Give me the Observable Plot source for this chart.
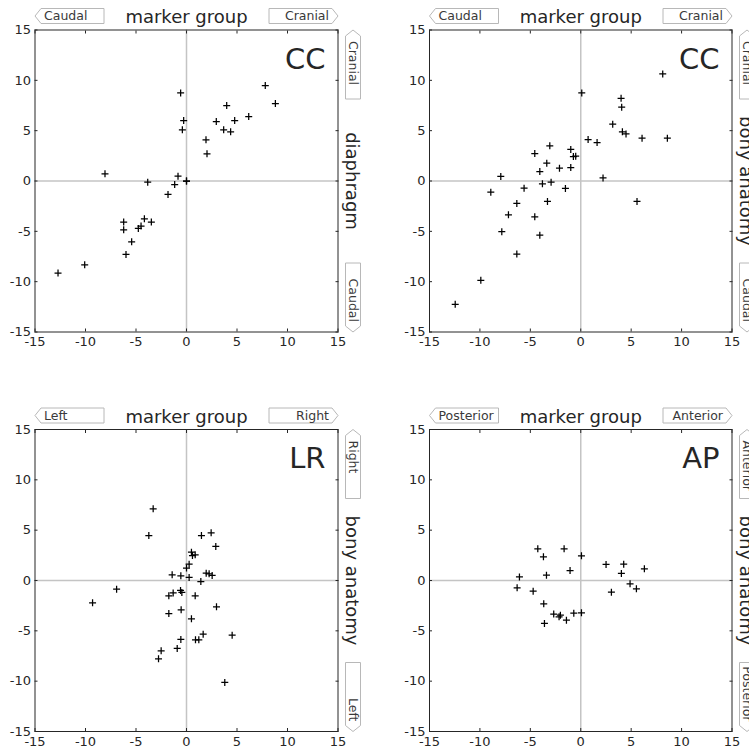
<!DOCTYPE html>
<html><head><meta charset="utf-8">
<script src="https://cdn.jsdelivr.net/npm/d3@7"></script>
<script src="https://cdn.jsdelivr.net/npm/@observablehq/plot@0.6"></script>
<style>
html,body{margin:0;padding:0;background:#fff;overflow:hidden;}
#chart{position:relative;width:749px;height:751px;overflow:hidden;background:#fff;}
#chart svg{position:absolute;}
</style></head><body><div id="chart"></div>
<script>
// ---- data ----
const tickValues = [-15, -10, -5, 0, 5, 10, 15];

const ccDiaX = [-0.58,-0.28,-0.41,7.8,8.8,3.98,2.95,4.77,6.16,3.68,4.37,1.93,2.03,-8.07,-3.84,-0.84,-1.17,-1.83,0,0,-6.22,-6.22,-4.17,-3.48,-4.5,-4.77,-5.43,-5.99,-10.08,-12.72];
const ccDiaY = [8.75,6.0,5.08,9.48,7.69,7.49,5.9,6.0,6.4,5.08,4.88,4.09,2.70,0.71,-0.12,0.48,-0.35,-1.34,0,0,-4.08,-4.85,-3.75,-4.08,-4.48,-4.71,-6.04,-7.29,-8.32,-9.15];

const ccBonyX = [8.13,0.1,4.0,4.06,3.17,4.13,4.49,6.08,8.59,0.73,1.62,-3.07,-4.56,-0.99,-0.73,-0.5,-3.37,-2.11,-0.99,-4.06,2.21,-7.93,-3.8,-2.94,-5.62,-1.52,-8.92,-3.3,5.58,-6.34,-7.17,-4.56,-7.83,-4.06,-6.34,-9.91,-12.45];
const ccBonyY = [10.63,8.75,8.22,7.33,5.64,4.88,4.68,4.25,4.25,4.12,3.82,3.49,2.73,3.13,2.43,2.46,1.77,1.27,1.34,0.94,0.31,0.45,-0.28,-0.12,-0.71,-0.74,-1.11,-2.03,-2.03,-2.23,-3.36,-3.56,-5.04,-5.38,-7.26,-9.87,-12.25];

const lrX = [-3.3,-3.73,1.48,2.44,2.9,0.49,0.86,0.59,0.26,0,-1.42,-0.56,0.26,1.95,2.24,2.54,1.42,-6.92,-9.3,-0.59,-0.46,-1.32,-1.75,0.86,2.97,-0.53,-1.75,0.49,1.65,1.22,0.89,-0.56,4.52,-0.92,-2.51,-2.77,3.79];
const lrY = [7.12,4.47,4.47,4.74,3.38,2.81,2.55,2.48,1.62,1.23,0.56,0.46,0.30,0.73,0.66,0.50,-0.1,-0.86,-2.22,-0.99,-1.19,-1.23,-1.52,-1.52,-2.62,-2.91,-3.28,-3.81,-5.33,-5.89,-5.89,-5.86,-5.43,-6.75,-6.99,-7.78,-10.13];

const apX = [-4.26,-1.65,-3.7,0.07,2.51,4.26,6.31,4.03,-1.06,-3.4,-6.08,-6.31,-4.72,4.89,5.52,3.04,-3.67,-2.68,-2.15,-2.02,-1.42,-0.69,0.07,-3.6];
const apY = [3.15,3.15,2.35,2.45,1.59,1.62,1.16,0.70,0.99,0.53,0.36,-0.73,-1.06,-0.33,-0.83,-1.16,-2.32,-3.34,-3.61,-3.44,-3.94,-3.25,-3.21,-4.27];

const panelLabels = ["CC", "CC", "LR", "AP"];
const topTitle = "marker group";
const rightTitles = ["diaphragm", "bony anatomy", "bony anatomy", "bony anatomy"];
const negLabels = ["Caudal", "Caudal", "Left", "Posterior"];
const posLabels = ["Cranial", "Cranial", "Right", "Anterior"];

// ---- symbols ----
const plusSymbol = {
  draw(ctx, size) {
    const r = Math.sqrt(size / Math.PI);
    ctx.moveTo(-r, 0); ctx.lineTo(r, 0);
    ctx.moveTo(0, -r); ctx.lineTo(0, r);
  }
};
const BW = 69, BH = 15, BA = 6;
const boxSymbol = {
  draw(ctx) {
    const hw = BW / 2, hh = BH / 2;
    ctx.moveTo(-hw, 0);
    ctx.lineTo(-hw + BA, -hh);
    ctx.lineTo(hw, -hh);
    ctx.lineTo(hw, hh);
    ctx.lineTo(-hw + BA, hh);
    ctx.closePath();
  }
};

const INK = "#262626";
const boxStroke = "#b8b8b8";
const boxText = "#3a3a3a";
const fmt = d => String(d);

function panel(i, xs, ys, geom) {
  const data = xs.map((x, k) => ({px: x, py: ys[k]}));
  const neg = negLabels[i], pos = posLabels[i];
  const boxFont = 12.5;
  const svg = Plot.plot({
    width: geom.width, height: geom.height,
    marginLeft: geom.ml, marginRight: geom.mr, marginTop: geom.mt, marginBottom: geom.mb,
    style: {fontFamily: "DejaVu Sans", fontSize: "13px", color: INK, background: "white", overflow: "hidden",
            position: "absolute", left: geom.left + "px", top: geom.top + "px"},
    x: {domain: [-15, 15], nice: false, label: null},
    y: {domain: [-15, 15], nice: false, label: null},
    marks: [
      Plot.ruleX([0], {stroke: "#c4c4c4", strokeWidth: 1.5}),
      Plot.ruleY([0], {stroke: "#c4c4c4", strokeWidth: 1.5}),
      // inward ticks on four sides
      Plot.axisX({anchor: "bottom", ticks: tickValues, tickSize: 3, dy: -3, tickFormat: () => "", label: null}),
      Plot.axisX({anchor: "top", ticks: tickValues, tickSize: 3, dy: 3, tickFormat: () => "", label: null}),
      Plot.axisY({anchor: "left", ticks: tickValues, tickSize: 3, dx: 3, tickFormat: () => "", label: null}),
      Plot.axisY({anchor: "right", ticks: tickValues, tickSize: 3, dx: -3, tickFormat: () => "", label: null}),
      // tick labels
      Plot.axisX({anchor: "bottom", ticks: tickValues, tickSize: 0, tickPadding: 5, tickFormat: fmt, fontSize: 13, label: null}),
      Plot.axisY({anchor: "left", ticks: tickValues, tickSize: 0, tickPadding: 4, tickFormat: fmt, fontSize: 13, label: null}),
      Plot.frame({stroke: INK, strokeWidth: 1}),
      Plot.dot(data, {x: "px", y: "py", symbol: plusSymbol, r: 3.5, stroke: "black", fill: "none", strokeWidth: 1.25}),
      // panel label
      Plot.text([panelLabels[i]], {text: d => d, frameAnchor: "top-right", dx: -12.5, dy: 38.5, textAnchor: "end", lineAnchor: "bottom", fontSize: 29, fill: INK}),
      // top title
      Plot.text([topTitle], {text: d => d, frameAnchor: "top", dy: -7, textAnchor: "middle", lineAnchor: "bottom", fontSize: 18, fill: INK}),
      // right title
      Plot.text([rightTitles[i]], {text: d => d, frameAnchor: "right", dx: 8, rotate: 90, textAnchor: "middle", lineAnchor: "bottom", fontSize: 18, fill: INK}),
      // direction boxes (top)
      Plot.dot([neg], {frameAnchor: "top-left", dx: BW / 2, dy: -14, symbol: boxSymbol, r: 10, fill: "white", stroke: boxStroke, strokeWidth: 1}),
      Plot.dot([pos], {frameAnchor: "top-right", dx: -BW / 2, dy: -14, rotate: 180, symbol: boxSymbol, r: 10, fill: "white", stroke: boxStroke, strokeWidth: 1}),
      Plot.text([neg], {text: d => d, frameAnchor: "top-left", dx: 9, dy: -14, textAnchor: "start", lineAnchor: "middle", fontSize: boxFont, fill: boxText}),
      Plot.text([pos], {text: d => d, frameAnchor: "top-right", dx: -9, dy: -14, textAnchor: "end", lineAnchor: "middle", fontSize: boxFont, fill: boxText}),
      // direction boxes (right)
      Plot.dot([pos], {frameAnchor: "top-right", dx: 15, dy: BW / 2, rotate: 90, symbol: boxSymbol, r: 10, fill: "white", stroke: boxStroke, strokeWidth: 1}),
      Plot.dot([neg], {frameAnchor: "bottom-right", dx: 15, dy: -BW / 2, rotate: -90, symbol: boxSymbol, r: 10, fill: "white", stroke: boxStroke, strokeWidth: 1}),
      Plot.text([pos], {text: d => d, frameAnchor: "top-right", dx: 15, dy: 11, rotate: 90, textAnchor: "start", lineAnchor: "middle", fontSize: boxFont, fill: boxText}),
      Plot.text([neg], {text: d => d, frameAnchor: "bottom-right", dx: 15, dy: -10, rotate: 90, textAnchor: "end", lineAnchor: "middle", fontSize: boxFont, fill: boxText})
    ]
  });
  return svg;
}

const chart = document.getElementById("chart");
const topGeom = {height: 375, mt: 29.5, mb: 43.5};
const botGeom = {height: 376, mt: 54, mb: 20};
const leftGeom = {width: 375, ml: 34.5, mr: 37.5, left: 0};
const rightGeom = {width: 374, ml: 54, mr: 17.5, left: 375};

chart.appendChild(panel(0, ccDiaX, ccDiaY, {...topGeom, ...leftGeom, top: 0}));
chart.appendChild(panel(1, ccBonyX, ccBonyY, {...topGeom, ...rightGeom, top: 0}));
chart.appendChild(panel(2, lrX, lrY, {...botGeom, ...leftGeom, top: 375}));
chart.appendChild(panel(3, apX, apY, {...botGeom, ...rightGeom, top: 375}));
</script></body></html>
